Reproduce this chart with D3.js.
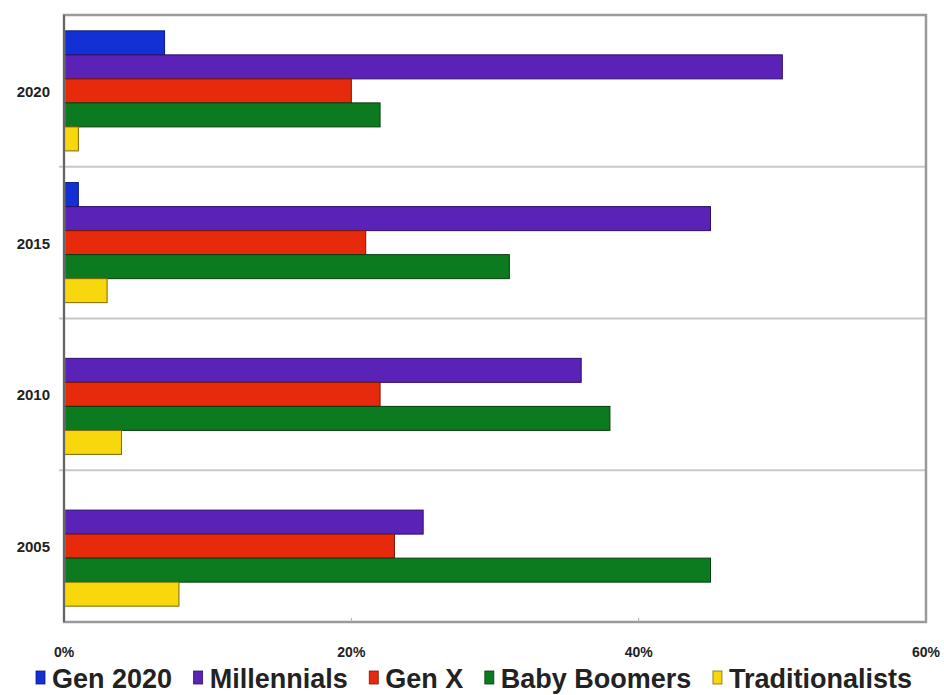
<!DOCTYPE html>
<html>
<head>
<meta charset="utf-8">
<script src="https://cdn.jsdelivr.net/npm/d3@7"></script>
<style>
  body { margin: 0; background: #fff; }
  text { font-family: "Liberation Sans", Arial, sans-serif; font-weight: bold; fill: #222; }
</style>
</head>
<body>
<div id="chart"></div>
<script>
// years top to bottom, as drawn
var years = ['2020', '2015', '2010', '2005'];
var series = ['Gen 2020', 'Millennials', 'Gen X', 'Baby Boomers', 'Traditionalists'];
// share of workforce, one array per series, in the order of years
var gen2020 = [0.07, 0.01, 0, 0];
var millennials = [0.50, 0.45, 0.36, 0.25];
var genX = [0.20, 0.21, 0.22, 0.23];
var boomers = [0.22, 0.31, 0.38, 0.45];
var traditionalists = [0.01, 0.03, 0.04, 0.08];
var xTicks = [0, 0.2, 0.4, 0.6];

(function() {
  var colors = ['#1230d4', '#5a22b6', '#e82a0c', '#0c7a1e', '#f8d70c'];
  var strokes = ['#0a1a80', '#2e0f70', '#7a1505', '#053d0e', '#7a6a08'];

  var values = [gen2020, millennials, genX, boomers, traditionalists];

  var width = 944, height = 695;
  var plotLeft = 64, plotRight = 926, plotTop = 15, plotBottom = 622;

  var svg = d3.select('#chart').append('svg')
      .attr('width', width)
      .attr('height', height);

  var x = d3.scaleLinear().domain([0, 0.6]).range([plotLeft, plotRight]);
  var y = d3.scaleBand().domain(years).range([plotTop, plotBottom]);
  var y1 = d3.scaleBand().domain(series).range([0, y.bandwidth()]).paddingOuter(0.66);

  // separators between years
  svg.append('g').selectAll('line')
      .data(years.slice(1))
      .enter().append('line')
      .attr('x1', plotLeft - 5).attr('x2', plotRight)
      .attr('y1', function(d) { return y(d); })
      .attr('y2', function(d) { return y(d); })
      .attr('stroke', '#c8c8c8')
      .attr('stroke-width', 2);

  // bars
  var groups = svg.append('g').selectAll('g')
      .data(years)
      .enter().append('g')
      .attr('transform', function(d) { return 'translate(0,' + y(d) + ')'; });

  groups.selectAll('rect')
      .data(function(d, i) {
        return series.map(function(s, j) { return { s: s, j: j, v: values[j][i] }; })
          .filter(function(e) { return e.v > 0; });
      })
      .enter().append('rect')
      .attr('x', x(0))
      .attr('y', function(d) { return y1(d.s); })
      .attr('width', function(d) { return x(d.v) - x(0); })
      .attr('height', y1.bandwidth())
      .attr('fill', function(d) { return colors[d.j]; })
      .attr('stroke', function(d) { return strokes[d.j]; })
      .attr('stroke-width', 1);

  // frame
  svg.append('rect')
      .attr('x', plotLeft).attr('y', plotTop)
      .attr('width', plotRight - plotLeft).attr('height', plotBottom - plotTop)
      .attr('fill', 'none')
      .attr('stroke', '#9a9a9a')
      .attr('stroke-width', 2.5);

  svg.append('line')
      .attr('x1', plotLeft).attr('x2', plotLeft)
      .attr('y1', plotTop).attr('y2', plotBottom)
      .attr('stroke', '#555')
      .attr('stroke-width', 1.5);

  // small ticks on the bottom axis
  svg.append('g').selectAll('line')
      .data(xTicks.slice(1, -1))
      .enter().append('line')
      .attr('x1', function(d) { return x(d); })
      .attr('x2', function(d) { return x(d); })
      .attr('y1', plotBottom - 4).attr('y2', plotBottom)
      .attr('stroke', '#aaa');

  // year labels
  svg.append('g').selectAll('text')
      .data(years)
      .enter().append('text')
      .attr('x', 50)
      .attr('y', function(d) { return y(d) + y.bandwidth() / 2 + 6; })
      .attr('text-anchor', 'end')
      .attr('font-size', 15)
      .text(function(d) { return d; });

  // x axis labels
  svg.append('g').selectAll('text')
      .data(xTicks)
      .enter().append('text')
      .attr('x', function(d) { return x(d); })
      .attr('y', 657)
      .attr('text-anchor', 'middle')
      .attr('font-size', 14)
      .text(d3.format('.0%'));

  // legend
  var items = svg.append('g').selectAll('g')
      .data(series)
      .enter().append('g');

  items.append('rect')
      .attr('y', 671)
      .attr('width', 9)
      .attr('height', 13)
      .attr('fill', function(d, i) { return colors[i]; })
      .attr('stroke', function(d, i) { return strokes[i]; })
      .attr('stroke-width', 0.8);

  items.append('text')
      .attr('x', 16)
      .attr('y', 688)
      .attr('font-size', 27)
      .text(function(d) { return d; });

  var lens = [];
  items.selectAll('text').each(function() { lens.push(this.getComputedTextLength() + 16); });
  var gap = (912 - 36 - d3.sum(lens)) / (series.length - 1);
  var pos = 36;
  items.attr('transform', function(d, i) {
    var t = 'translate(' + pos + ',0)';
    pos += lens[i] + gap;
    return t;
  });
})();
</script>
</body>
</html>
